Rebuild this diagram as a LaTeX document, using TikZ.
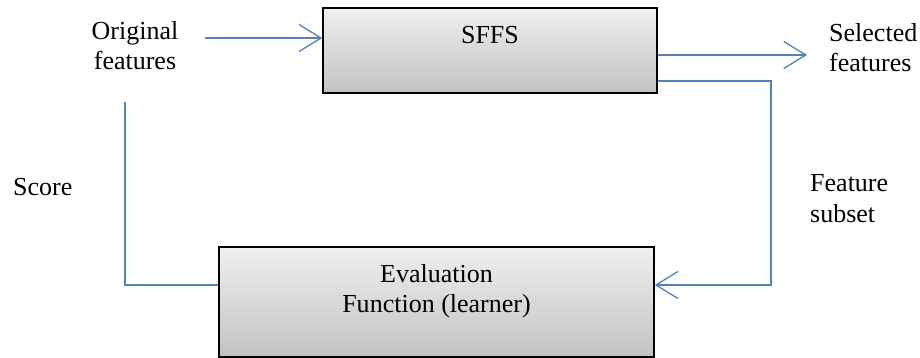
\documentclass[tikz,border=0pt]{standalone}
\usepackage{fontspec}
\setmainfont{Liberation Serif}
\usepackage{tikz}
\usetikzlibrary{arrows.meta}
\definecolor{flowblue}{HTML}{4F81BD}

\begin{document}
\begin{tikzpicture}[x=1pt, y=-1pt, >={Straight Barb[length=22pt, width=27pt]},
  every node/.style={font=\fontsize{26}{30}\selectfont, inner sep=0pt},
  stagebox/.style={draw=black, line width=1.5pt, top color=gray!12, bottom color=gray!48, rectangle},
  flow/.style={draw=flowblue, line width=1.3pt}]
\useasboundingbox (0,0) rectangle (920,358);

% boxes
\node[stagebox, minimum width=334pt, minimum height=85pt] (sffs) at (490,50.5) {};
\node[anchor=base] (sffstxt) at (490,44) {SFFS};

\node[stagebox, minimum width=435pt, minimum height=110pt] (eval) at (436.5,302) {};
\node[anchor=base, align=center] (evaltxt) at (436.5,312) {Evaluation\\Function (learner)};

% labels (base = last line)
\node[anchor=base, align=center] (orig) at (135,70) {Original\\features};
\node[anchor=base west, align=left] (sel) at (829,72) {Selected\\features};
\node[anchor=base west, align=left] (subset) at (810,222) {Feature\\subset};
\node[anchor=base west] (score) at (13,195) {Score};

% connectors
\coordinate (origend) at (205,38);
\coordinate (selend) at (807,55);
\coordinate (fbcorner) at (771,81);
\coordinate (fbin) at (654,285);
\coordinate (scoretop) at (125,102);

\draw[flow, ->] (origend) -- (origend -| sffs.west);
\draw[flow, ->] (selend -| sffs.east) -- (selend);
\draw[flow, ->] (fbcorner -| sffs.east) -- (fbcorner) |- (fbin -| eval.east);
\draw[flow] (fbin -| eval.west) -| (scoretop);

\end{tikzpicture}
\end{document}
